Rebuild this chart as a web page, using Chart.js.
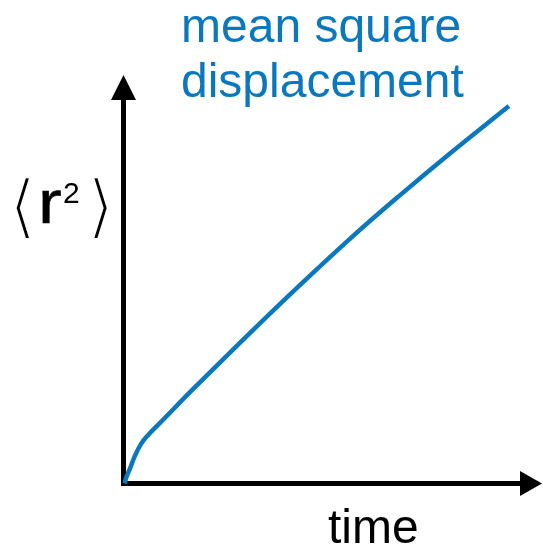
<!DOCTYPE html>
<html>
<head>
<meta charset="utf-8">
<script src="https://cdn.jsdelivr.net/npm/chart.js@4/dist/chart.umd.min.js"></script>
<style>
  html, body { margin: 0; padding: 0; background: #fff; }
  #wrap { position: relative; width: 543px; height: 549px; overflow: hidden; }
  #msd-chart { position: absolute; left: 0; top: 0; }
  .lbl { position: absolute; font-family: "Liberation Sans", Arial, sans-serif; white-space: nowrap; line-height: 1; }
  .title { color: #0a78be; font-size: 48px; line-height: 55px; left: 181px; top: -2px; }
  .time { color: #000; font-size: 48px; line-height: 55px; left: 328px; top: 499px; }
  .br { font-family: "DejaVu Sans", sans-serif; font-size: 70px; -webkit-text-stroke: 2.6px #fff; }
  .r { font-size: 62px; left: 38px; top: 170.5px; -webkit-text-stroke: 0.5px #000; transform: scaleX(1.15); transform-origin: left top; }
</style>
</head>
<body>
<div id="wrap">
  <canvas id="msd-chart" width="543" height="549"></canvas>
  <div class="lbl title">mean square<br>displacement</div>
  <div class="lbl time">time</div>
  <span class="lbl br" style="left:9px;top:171px">&#x27E8;</span>
  <span class="lbl r">r</span>
  <span class="lbl" style="font-size:30px;left:63px;top:177.5px">2</span>
  <span class="lbl br" style="left:87px;top:171px">&#x27E9;</span>
</div>
<script>
// curve, arbitrary units (axes run 0..100)
const timeValues = [0.3, 0.6, 1.6, 2.7, 4.2, 5.9, 8.2, 10.6, 14.0, 18.3, 30.2, 42.2, 54.1, 66.1, 78.0, 92.1];
const msdValues  = [0, 1.3, 3.8, 6.7, 9.7, 11.9, 14.3, 16.8, 20.4, 24.8, 36.8, 48.6, 59.9, 70.6, 80.8, 92.4];

const CURVE_BLUE = "#0a78be";

// black axes with filled arrow heads, painted under the curve
const arrowAxes = {
  id: "arrowAxes",
  beforeDatasetsDraw(chart) {
    const { ctx, scales: { x, y } } = chart;
    const x0 = x.getPixelForValue(0), y0 = y.getPixelForValue(0);
    const xTip = x.getPixelForValue(100), yTip = y.getPixelForValue(100);
    const head = 22, half = 12.5;
    ctx.save();
    ctx.strokeStyle = "#000";
    ctx.fillStyle = "#000";
    ctx.lineWidth = 5;
    ctx.lineCap = "butt";
    ctx.beginPath();
    ctx.moveTo(x0, y0 + 2.5);
    ctx.lineTo(x0, yTip + head);
    ctx.moveTo(x0 - 2.5, y0);
    ctx.lineTo(xTip - head, y0);
    ctx.stroke();
    ctx.beginPath();
    ctx.moveTo(x0, yTip);
    ctx.lineTo(x0 - half, yTip + head + 3);
    ctx.lineTo(x0 + half, yTip + head + 3);
    ctx.closePath();
    ctx.fill();
    ctx.beginPath();
    ctx.moveTo(xTip, y0);
    ctx.lineTo(xTip - head, y0 - half);
    ctx.lineTo(xTip - head, y0 + half);
    ctx.closePath();
    ctx.fill();
    ctx.restore();
  },
};

new Chart(document.getElementById("msd-chart"), {
  type: "line",
  data: {
    datasets: [{
      data: timeValues.map((t, i) => ({ x: t, y: msdValues[i] })),
      borderColor: CURVE_BLUE,
      borderWidth: 4.5,
      borderCapStyle: "butt",
      borderJoinStyle: "round",
      pointRadius: 0,
      tension: 0.4,
      fill: false,
      clip: false,
    }],
  },
  options: {
    responsive: false,
    animation: false,
    events: [],
    layout: { padding: { left: 123.5, right: 1, top: 75, bottom: 65.5 } },
    plugins: { legend: { display: false }, tooltip: { enabled: false } },
    scales: {
      x: { type: "linear", min: 0, max: 100, display: false },
      y: { type: "linear", min: 0, max: 100, display: false },
    },
  },
  plugins: [arrowAxes],
});
</script>
</body>
</html>
